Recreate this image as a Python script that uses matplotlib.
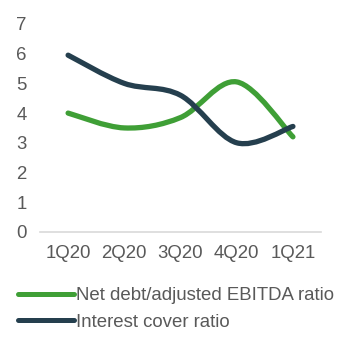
import numpy as np
import matplotlib.pyplot as plt
from matplotlib.path import Path
from matplotlib.patches import PathPatch
from matplotlib.lines import Line2D

plt.rcParams['font.family'] = ['Liberation Sans', 'DejaVu Sans']

quarters = ['1Q20', '2Q20', '3Q20', '4Q20', '1Q21']
net_debt_ebitda = [4.0, 3.5, 3.85, 5.05, 3.2]
interest_cover = [5.95, 5.0, 4.6, 3.0, 3.55]

GREEN = '#3f9f36'
NAVY = '#253f4e'
GREY = '#595959'


def smooth_path(xs, ys):
    # Bezier segments with Catmull-Rom style tangents (like a smoothed line in a spreadsheet)
    pts = np.column_stack([xs, ys]).astype(float)
    n = len(pts)
    verts = [pts[0]]
    codes = [Path.MOVETO]
    for i in range(n - 1):
        p0 = pts[i - 1] if i > 0 else pts[i]
        p1 = pts[i]
        p2 = pts[i + 1]
        p3 = pts[i + 2] if i + 2 < n else pts[i + 1]
        c1 = p1 + (p2 - p0) / 6.0
        c2 = p2 - (p3 - p1) / 6.0
        verts += [c1, c2, p2]
        codes += [Path.CURVE4] * 3
    return Path(verts, codes)


fig = plt.figure(figsize=(3.39, 3.38), dpi=100)
ax = fig.add_axes([0.118, 0.314, 0.829, 0.615])

x = np.arange(len(quarters))
for vals, col in [(net_debt_ebitda, GREEN), (interest_cover, NAVY)]:
    ax.add_patch(PathPatch(smooth_path(x, vals), facecolor='none', edgecolor=col,
                           lw=3.8, capstyle='round', joinstyle='round'))

ax.set_xlim(-0.5, len(quarters) - 0.5)
ax.set_ylim(0, 7)
ax.set_xticks(x)
ax.set_xticklabels(quarters)
ax.set_yticks(range(0, 8))

for s in ['top', 'right', 'left']:
    ax.spines[s].set_visible(False)
ax.spines['bottom'].set_color('#d9d9d9')
ax.spines['bottom'].set_linewidth(1.2)
ax.tick_params(axis='both', length=0, labelsize=13.4, labelcolor=GREY)
ax.tick_params(axis='x', pad=9.5)
ax.tick_params(axis='y', pad=9.5)

handles = [Line2D([], [], color=GREEN, lw=3.6, solid_capstyle='round'),
           Line2D([], [], color=NAVY, lw=3.6, solid_capstyle='round')]
fig.legend(handles, ['Net debt/adjusted EBITDA ratio', 'Interest cover ratio'],
           loc='upper left', bbox_to_anchor=(0.053, 0.15), frameon=False,
           fontsize=13.4, labelcolor=GREY, handlelength=3.0, handletextpad=0.1,
           labelspacing=0.5, borderaxespad=0, borderpad=0)

fig.savefig('out.png', dpi=100)
